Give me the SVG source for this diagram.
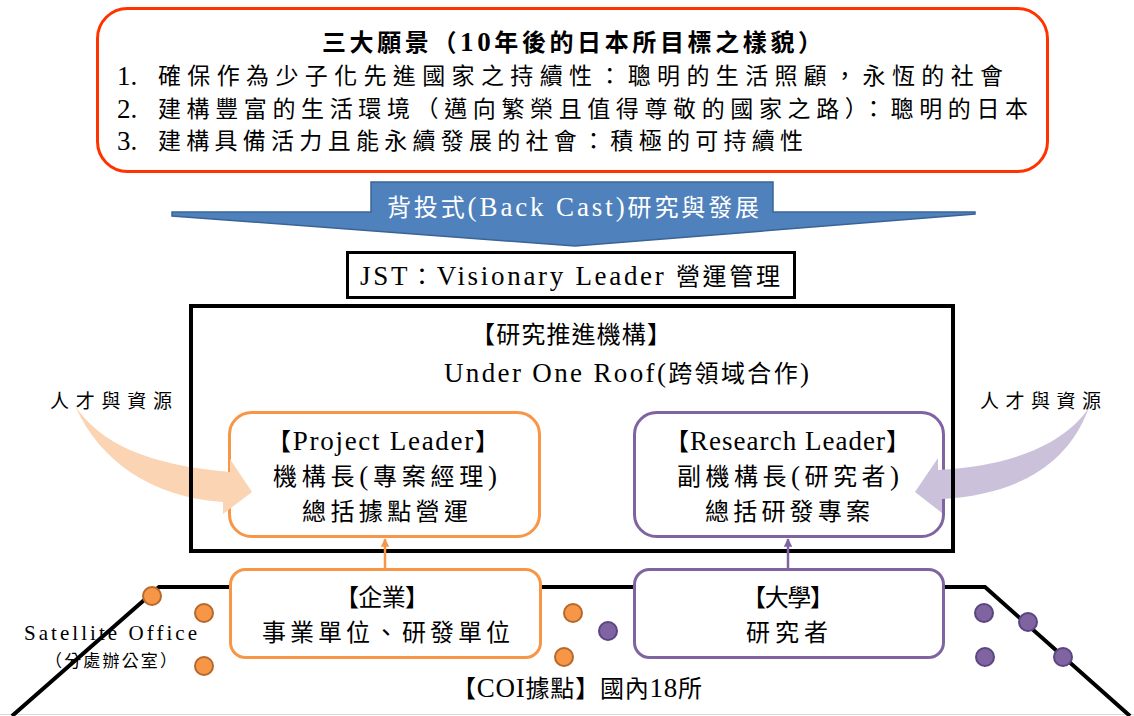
<svg xmlns="http://www.w3.org/2000/svg" width="1134" height="716" viewBox="0 0 1134 716">
<defs>
<style>
text{font-family:"Liberation Serif","Noto Sans CJK TC",serif;fill:#000;}
.t24{font-size:24px;}
.t23{font-size:23px;}
.t19{font-size:19px;}
.t17{font-size:17px;}
.L{font-size:27px;}
.Ls{font-size:21px;}
.w{fill:#fff;}
.orgBox{fill:#fff;stroke:#F79646;stroke-width:3;}
.purBox{fill:#fff;stroke:#8064A2;stroke-width:3;}
.dotO{fill:#F79646;stroke:#B5682B;stroke-width:2;}
.dotP{fill:#8064A2;stroke:#5B4580;stroke-width:2;}
</style>
<marker id="arrO" viewBox="0 0 10 10" refX="9" refY="5" markerWidth="3.4" markerHeight="3.4" orient="auto"><path d="M0,0 L10,5 L0,10 Z" fill="#F79646"/></marker>
<marker id="arrP" viewBox="0 0 10 10" refX="9" refY="5" markerWidth="3.4" markerHeight="3.4" orient="auto"><path d="M0,0 L10,5 L0,10 Z" fill="#8064A2"/></marker>
</defs>
<rect width="1134" height="716" fill="#fff"/>
<line x1="0" y1="714.5" x2="1134" y2="714.5" stroke="#D9D9D9" stroke-width="1"/>

<g id="vision">
<rect x="97.5" y="8.5" width="950" height="163" rx="30" fill="#fff" stroke="#FF3300" stroke-width="3"/>
<text class="t24" x="322" y="51" font-weight="bold" textLength="500">三大願景（<tspan class="L">10</tspan>年後的日本所目標之樣貌）</text>
<text class="L" x="117" y="85">1.</text>
<text class="t23" x="158" y="84" textLength="845">確保作為少子化先進國家之持續性：聰明的生活照顧，永恆的社會</text>
<text class="L" x="117" y="118">2.</text>
<text class="t23" x="158" y="117" textLength="870">建構豐富的生活環境（邁向繁榮且值得尊敬的國家之路）：聰明的日本</text>
<text class="L" x="117" y="150">3.</text>
<text class="t23" x="158" y="149" textLength="645">建構具備活力且能永續發展的社會：積極的可持續性</text>
</g>

<g id="backcast">
<polygon points="172,212 371,212 371,182 773,182 773,212 975,212 975,214 575,246 172,216" fill="#4F81BD" stroke="#3A6496" stroke-width="1.5" stroke-linejoin="miter"/>
<text class="t24 w" x="387" y="216" textLength="372">背投式<tspan class="L">(Back Cast)</tspan>研究與發展</text>
</g>

<g id="jst">
<rect x="347.5" y="252.5" width="447" height="45" fill="#fff" stroke="#000" stroke-width="3"/>
<text class="t24" x="360" y="285" textLength="420"><tspan class="L">JST</tspan>：<tspan class="L">Visionary Leader </tspan>營運管理</text>
</g>

<g id="coi">
<polyline points="12,716 159,587 985,587 1130,716" fill="none" stroke="#000" stroke-width="4" stroke-linejoin="miter"/>
<text class="t24" x="452" y="697" textLength="250">【<tspan class="L">COI</tspan>據點】國內<tspan class="L">18</tspan>所</text>
<text class="Ls" x="24" y="640" textLength="173">Satellite Office</text>
<text class="t17" x="45" y="667" textLength="132">（分處辦公室）</text>
</g>

<g id="dots">
<circle class="dotO" cx="152" cy="596" r="9"/>
<circle class="dotO" cx="204" cy="613" r="9"/>
<circle class="dotO" cx="204" cy="666" r="9"/>
<circle class="dotO" cx="573" cy="613" r="9"/>
<circle class="dotO" cx="564" cy="657" r="9"/>
<circle class="dotP" cx="608" cy="631" r="9"/>
<circle class="dotP" cx="984" cy="613" r="9"/>
<circle class="dotP" cx="1028" cy="622" r="9"/>
<circle class="dotP" cx="985" cy="657" r="9"/>
<circle class="dotP" cx="1063" cy="657" r="9"/>
</g>

<g id="project-leader">
<rect class="orgBox" x="229.5" y="412.5" width="310" height="124" rx="22"/>
<text class="t24" x="267" y="450" textLength="232">【<tspan class="L">Project Leader</tspan>】</text>
<text class="t24" x="273" y="485" textLength="224">機構長<tspan class="L">(</tspan>專案經理<tspan class="L">)</tspan></text>
<text class="t24" x="302" y="520" textLength="166">總括據點營運</text>
</g>

<g id="research-leader">
<rect class="purBox" x="634.5" y="412.5" width="309" height="124" rx="22"/>
<text class="t24" x="665" y="450" textLength="245">【<tspan class="L">Research Leader</tspan>】</text>
<text class="t24" x="677" y="485" textLength="222">副機構長<tspan class="L">(</tspan>研究者<tspan class="L">)</tspan></text>
<text class="t24" x="705" y="520" textLength="165">總括研發專案</text>
</g>

<g id="resources-left">
<text class="t19" x="50" y="408" textLength="122">人才與資源</text>
<path d="M73,403 C100,445 150,465 230,472 L230,459 L252,492 L223,514 L223,502 C150,497 100,460 76,408 Z" fill="#FBD4B4"/>
</g>

<g id="resources-right">
<text class="t19" x="980" y="408" textLength="121">人才與資源</text>
<path d="M1090,406 C1065,445 1010,466 938,470 L938,458 L915,492 L942,513 L942,499 C1010,495 1065,470 1088,410 Z" fill="#CCC1DA"/>
</g>

<g id="institute">
<rect x="191" y="306" width="762" height="245" fill="none" stroke="#000" stroke-width="4"/>
<text class="t24" x="471" y="343" textLength="200">【研究推進機構】</text>
<text class="t24" x="444" y="382" textLength="365"><tspan class="L">Under One Roof(</tspan>跨領域合作<tspan class="L">)</tspan></text>
</g>

<g id="company">
<rect class="orgBox" x="230.5" y="569.5" width="310" height="88" rx="15"/>
<text class="t24" x="335" y="606" textLength="94">【企業】</text>
<text class="t24" x="262" y="641" textLength="248">事業單位、研發單位</text>
</g>

<g id="university">
<rect class="purBox" x="634.5" y="569.5" width="309" height="88" rx="15"/>
<text class="t24" x="742" y="606" textLength="92">【大學】</text>
<text class="t24" x="746" y="641" textLength="82">研究者</text>
</g>

<g id="connectors">
<line x1="385" y1="568" x2="385" y2="539" stroke="#F79646" stroke-width="2.5" marker-end="url(#arrO)"/>
<line x1="788" y1="568" x2="788" y2="539" stroke="#8064A2" stroke-width="2.5" marker-end="url(#arrP)"/>
</g>
</svg>
